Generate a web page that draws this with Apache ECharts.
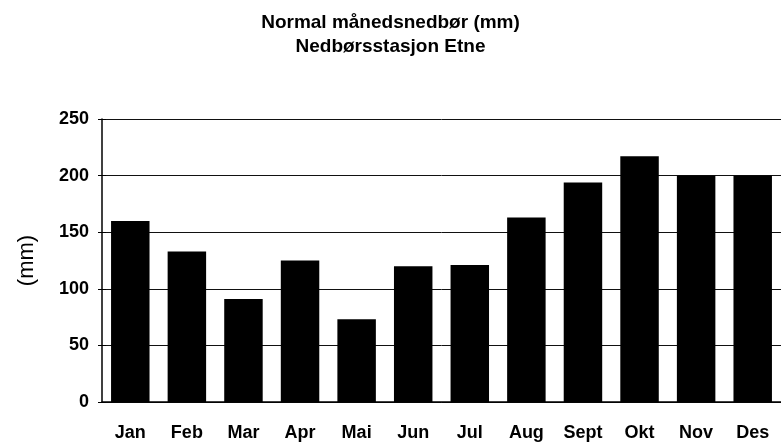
<!DOCTYPE html>
<html>
<head>
<meta charset="utf-8">
<script src="https://cdn.jsdelivr.net/npm/echarts@6/dist/echarts.min.js"></script>
<style>
  html, body { margin: 0; padding: 0; background: #fff; }
  #chart { width: 781px; height: 443px; }
</style>
</head>
<body>
<div id="chart"></div>
<script>
// ── data ──
const months = ['Jan', 'Feb', 'Mar', 'Apr', 'Mai', 'Jun', 'Jul', 'Aug', 'Sept', 'Okt', 'Nov', 'Des']
const precip = [160, 133, 91, 125, 73, 120, 121, 163, 194, 217, 200, 200]

const font = '"Liberation Sans", Arial, sans-serif'
const black = { color: '#000', width: 1.5 }

const chart = echarts.init(document.getElementById('chart'))
chart.setOption({
  animation: false,
  title: {
    text: 'Normal månedsnedbør (mm)\nNedbørsstasjon Etne',
    left: 'center',
    top: 6,
    textStyle: { fontFamily: font, fontSize: 19, fontWeight: 'bold', color: '#000', lineHeight: 24 },
  },
  grid: { left: 102, top: 119, width: 686, height: 283 },
  xAxis: [
    {
      type: 'category',
      data: months,
      axisLine: { lineStyle: black },
      axisTick: { length: 4, lineStyle: { color: '#000' } },
      axisLabel: { margin: 22, fontFamily: font, fontSize: 18, fontWeight: 'bold', color: '#000' },
    },
    {
      // 内侧刻度，做出十字刻度
      type: 'category',
      data: months,
      position: 'bottom',
      axisLine: { show: false },
      axisTick: { inside: true, length: 3, lineStyle: { color: '#000' } },
      axisLabel: { show: false },
    },
  ],
  yAxis: [
    {
      type: 'value',
      min: 0,
      max: 250,
      interval: 50,
      name: '(mm)',
      nameLocation: 'middle',
      nameGap: 64,
      nameTextStyle: { fontFamily: font, fontSize: 22, color: '#000' },
      axisLine: { show: true, lineStyle: black },
      axisTick: { show: true, length: 4, lineStyle: { color: '#000' } },
      axisLabel: { margin: 13, fontFamily: font, fontSize: 18, fontWeight: 'bold', color: '#000' },
      splitLine: { lineStyle: { color: '#111', width: 1 } },
    },
    {
      type: 'value',
      min: 0,
      max: 250,
      interval: 50,
      position: 'left',
      axisLine: { show: false },
      axisTick: { show: true, inside: true, length: 4, lineStyle: { color: '#000' } },
      axisLabel: { show: false },
      splitLine: { show: false },
    },
  ],
  series: [{
    type: 'bar',
    data: precip,
    barCategoryGap: '32%',
    itemStyle: { color: '#000' },
  }],
})
</script>
</body>
</html>
